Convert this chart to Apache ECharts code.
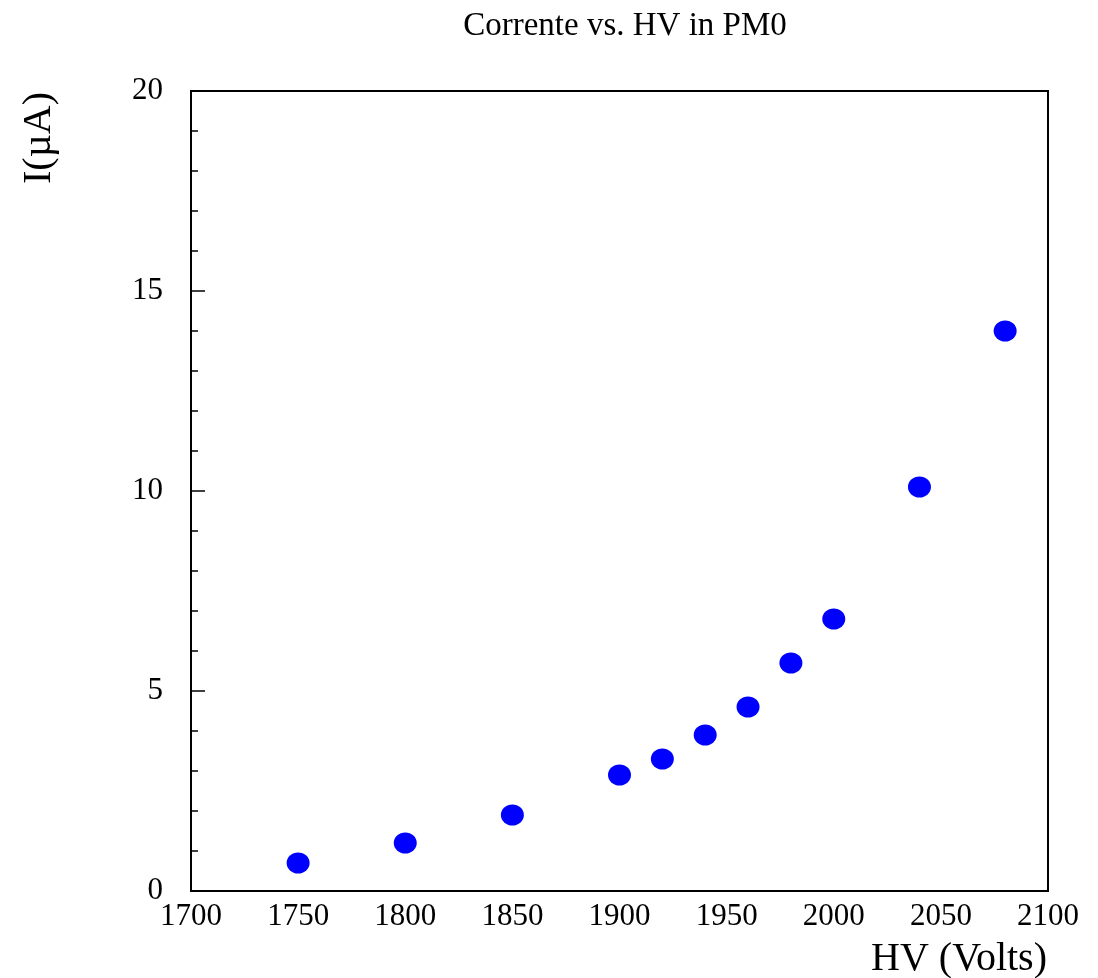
<!DOCTYPE html>
<html>
<head>
<meta charset="utf-8">
<script src="https://cdn.jsdelivr.net/npm/echarts@6/dist/echarts.min.js"></script>
<style>html,body{margin:0;padding:0;background:#fff}#c{width:1098px;height:978px}</style>
</head>
<body>
<div id="c"></div>
<script>
const hv = [1750, 1800, 1850, 1900, 1920, 1940, 1960, 1980, 2000, 2040, 2080];
const current = [0.7, 1.2, 1.9, 2.9, 3.3, 3.9, 4.6, 5.7, 6.8, 10.1, 14.0];
const titleText = 'Corrente vs. HV in PM0';
const xName = 'HV (Volts)';
const yName = 'I(\u00B5A)';

const font = 'Liberation Serif, Times New Roman, serif';
const chart = echarts.init(document.getElementById('c'));
chart.setOption({
  animation: false,
  backgroundColor: '#fff',
  title: {
    text: titleText, left: 620, top: 5, textAlign: 'center',
    textStyle: { fontFamily: font, fontWeight: 'normal', fontSize: 33, color: '#000' }
  },
  grid: { left: 191, top: 91, right: 50, bottom: 87, show: true, borderColor: '#000', borderWidth: 2 },
  xAxis: {
    type: 'value', min: 1700, max: 2100, interval: 50,
    axisLine: { show: true, lineStyle: { color: '#000', width: 2 } },
    axisTick: { show: false },
    splitLine: { show: false },
    axisLabel: { fontFamily: font, fontSize: 31, color: '#000', margin: 10, formatter: v => String(v) }
  },
  yAxis: {
    type: 'value', min: 0, max: 20, interval: 5,
    axisLine: { show: true, lineStyle: { color: '#000', width: 2 } },
    axisTick: { show: true, inside: true, length: 14, lineStyle: { color: '#000', width: 1.5 } },
    minorTick: { show: true, splitNumber: 5, length: 7, lineStyle: { color: '#000', width: 1.5 } },
    splitLine: { show: false },
    axisLabel: { fontFamily: font, fontSize: 31, color: '#000', margin: 28, formatter: v => String(v) }
  },
  graphic: [
    { type: 'text', x: 39, y: 138, rotation: Math.PI / 2,
      style: { text: yName, font: '40px ' + font, fill: '#000', align: 'center', verticalAlign: 'middle' } },
    { type: 'text', x: 1047, y: 959,
      style: { text: xName, font: '40px ' + font, fill: '#000', align: 'right', verticalAlign: 'middle' } }
  ],
  series: [{
    type: 'scatter',
    data: hv.map((v, i) => [v, current[i]]),
    symbol: 'circle',
    symbolSize: [23, 21],
    itemStyle: { color: '#0000ff', opacity: 1 }
  }]
});
</script>
</body>
</html>
